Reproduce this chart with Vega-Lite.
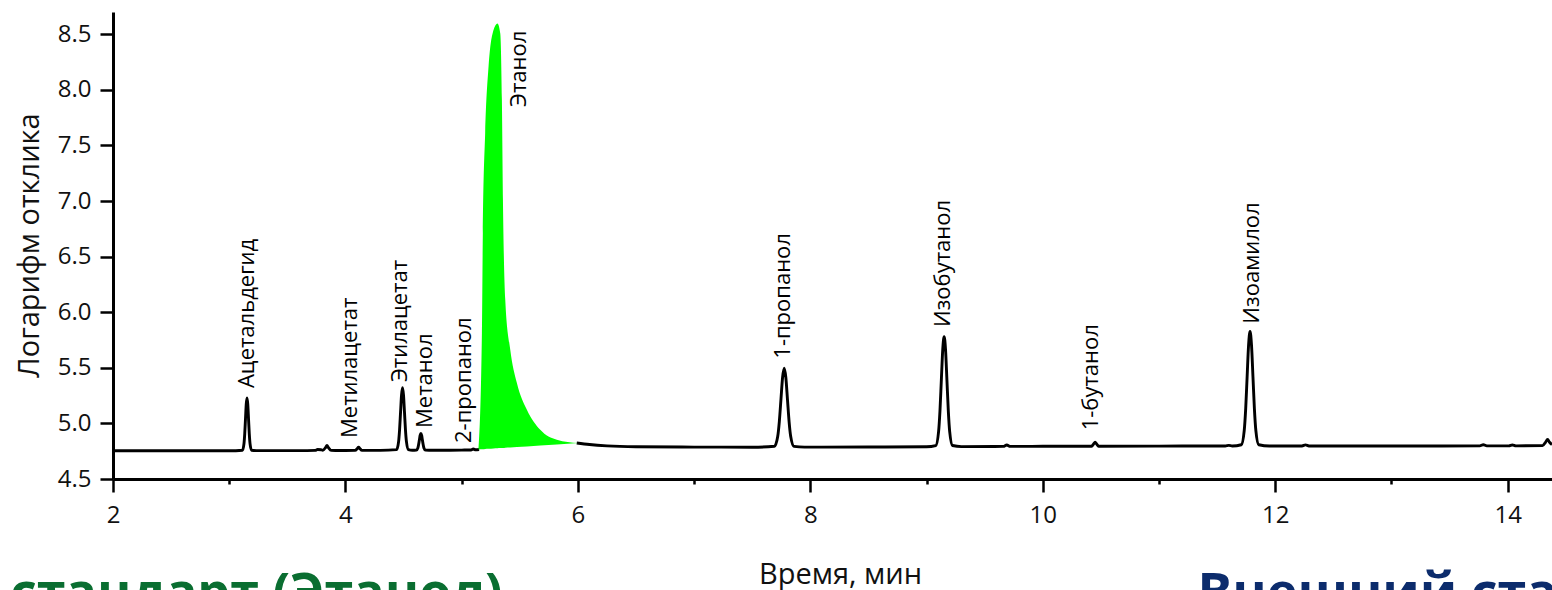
{
  "$schema": "https://vega.github.io/schema/vega-lite/v6.json",
  "width": 1439,
  "height": 467,
  "autosize": {"type": "none"},
  "padding": {"left": 113, "top": 12, "right": 0, "bottom": 111},
  "background": "white",
  "config": {"view": {"stroke": null}},
  "datasets": {
    "trace": [
      {"t": 2.0, "v": 4.754, "seg": "a"}, {"t": 2.6, "v": 4.754, "seg": "a"}, {"t": 3.0, "v": 4.754, "seg": "a"},
      {"t": 3.114, "v": 4.759, "seg": "a"}, {"t": 3.127, "v": 4.818, "seg": "a"}, {"t": 3.1335, "v": 4.908, "seg": "a"}, {"t": 3.14, "v": 5.042, "seg": "a"}, {"t": 3.1465, "v": 5.173, "seg": "a"}, {"t": 3.153, "v": 5.229, "seg": "a"}, {"t": 3.1595, "v": 5.173, "seg": "a"}, {"t": 3.166, "v": 5.042, "seg": "a"}, {"t": 3.1725, "v": 4.908, "seg": "a"}, {"t": 3.179, "v": 4.818, "seg": "a"}, {"t": 3.192, "v": 4.759, "seg": "a"},
      {"t": 3.25, "v": 4.755, "seg": "a"}, {"t": 3.6, "v": 4.755, "seg": "a"}, {"t": 3.74, "v": 4.757, "seg": "a"}, {"t": 3.76, "v": 4.765, "seg": "a"}, {"t": 3.79, "v": 4.763, "seg": "a"},
      {"t": 3.805, "v": 4.758, "seg": "a"}, {"t": 3.829, "v": 4.783, "seg": "a"}, {"t": 3.841, "v": 4.801, "seg": "a"}, {"t": 3.853, "v": 4.783, "seg": "a"}, {"t": 3.877, "v": 4.757, "seg": "a"},
      {"t": 4.0, "v": 4.756, "seg": "a"},
      {"t": 4.083, "v": 4.757, "seg": "a"}, {"t": 4.103, "v": 4.775, "seg": "a"}, {"t": 4.113, "v": 4.787, "seg": "a"}, {"t": 4.123, "v": 4.775, "seg": "a"}, {"t": 4.143, "v": 4.757, "seg": "a"},
      {"t": 4.3, "v": 4.757, "seg": "a"},
      {"t": 4.44, "v": 4.764, "seg": "a"}, {"t": 4.457, "v": 4.834, "seg": "a"}, {"t": 4.4655, "v": 4.94, "seg": "a"}, {"t": 4.474, "v": 5.099, "seg": "a"}, {"t": 4.4825, "v": 5.254, "seg": "a"}, {"t": 4.491, "v": 5.32, "seg": "a"}, {"t": 4.4995, "v": 5.254, "seg": "a"}, {"t": 4.508, "v": 5.099, "seg": "a"}, {"t": 4.5165, "v": 4.94, "seg": "a"}, {"t": 4.525, "v": 4.834, "seg": "a"}, {"t": 4.542, "v": 4.764, "seg": "a"},
      {"t": 4.575, "v": 4.758, "seg": "a"},
      {"t": 4.61, "v": 4.76, "seg": "a"}, {"t": 4.623, "v": 4.779, "seg": "a"}, {"t": 4.636, "v": 4.85, "seg": "a"}, {"t": 4.6425, "v": 4.892, "seg": "a"}, {"t": 4.649, "v": 4.91, "seg": "a"}, {"t": 4.6555, "v": 4.892, "seg": "a"}, {"t": 4.662, "v": 4.85, "seg": "a"}, {"t": 4.675, "v": 4.779, "seg": "a"}, {"t": 4.688, "v": 4.76, "seg": "a"},
      {"t": 4.75, "v": 4.758, "seg": "a"}, {"t": 4.9, "v": 4.759, "seg": "a"}, {"t": 5.0, "v": 4.76, "seg": "a"}, {"t": 5.08, "v": 4.761, "seg": "a"}, {"t": 5.1, "v": 4.77, "seg": "a"}, {"t": 5.12, "v": 4.763, "seg": "a"}, {"t": 5.15, "v": 4.765, "seg": "a"},
      {"t": 5.99, "v": 4.824, "seg": "b"}, {"t": 6.1, "v": 4.81, "seg": "b"}, {"t": 6.25, "v": 4.798, "seg": "b"}, {"t": 6.5, "v": 4.79, "seg": "b"}, {"t": 7.0, "v": 4.787, "seg": "b"}, {"t": 7.5, "v": 4.786, "seg": "b"},
      {"t": 7.691, "v": 4.794, "seg": "b"}, {"t": 7.719, "v": 4.882, "seg": "b"}, {"t": 7.733, "v": 5.017, "seg": "b"}, {"t": 7.747, "v": 5.217, "seg": "b"}, {"t": 7.761, "v": 5.413, "seg": "b"}, {"t": 7.775, "v": 5.496, "seg": "b"}, {"t": 7.789, "v": 5.413, "seg": "b"}, {"t": 7.803, "v": 5.217, "seg": "b"}, {"t": 7.817, "v": 5.017, "seg": "b"}, {"t": 7.831, "v": 4.882, "seg": "b"}, {"t": 7.859, "v": 4.794, "seg": "b"},
      {"t": 7.95, "v": 4.787, "seg": "b"}, {"t": 8.5, "v": 4.788, "seg": "b"}, {"t": 9.0, "v": 4.79, "seg": "b"},
      {"t": 9.079, "v": 4.801, "seg": "b"}, {"t": 9.103, "v": 4.924, "seg": "b"}, {"t": 9.115, "v": 5.111, "seg": "b"}, {"t": 9.127, "v": 5.39, "seg": "b"}, {"t": 9.139, "v": 5.664, "seg": "b"}, {"t": 9.151, "v": 5.78, "seg": "b"}, {"t": 9.163, "v": 5.664, "seg": "b"}, {"t": 9.175, "v": 5.39, "seg": "b"}, {"t": 9.187, "v": 5.111, "seg": "b"}, {"t": 9.199, "v": 4.924, "seg": "b"}, {"t": 9.223, "v": 4.801, "seg": "b"},
      {"t": 9.3, "v": 4.791, "seg": "b"}, {"t": 9.66, "v": 4.793, "seg": "b"}, {"t": 9.69, "v": 4.806, "seg": "b"}, {"t": 9.72, "v": 4.793, "seg": "b"}, {"t": 10.0, "v": 4.794, "seg": "b"},
      {"t": 10.42, "v": 4.795, "seg": "b"}, {"t": 10.437, "v": 4.815, "seg": "b"}, {"t": 10.45, "v": 4.83, "seg": "b"}, {"t": 10.463, "v": 4.815, "seg": "b"}, {"t": 10.48, "v": 4.795, "seg": "b"},
      {"t": 11.0, "v": 4.796, "seg": "b"}, {"t": 11.57, "v": 4.797, "seg": "b"}, {"t": 11.6, "v": 4.802, "seg": "b"}, {"t": 11.63, "v": 4.797, "seg": "b"},
      {"t": 11.708, "v": 4.808, "seg": "b"}, {"t": 11.733, "v": 4.936, "seg": "b"}, {"t": 11.7455, "v": 5.131, "seg": "b"}, {"t": 11.758, "v": 5.422, "seg": "b"}, {"t": 11.7705, "v": 5.706, "seg": "b"}, {"t": 11.783, "v": 5.827, "seg": "b"}, {"t": 11.7955, "v": 5.706, "seg": "b"}, {"t": 11.808, "v": 5.422, "seg": "b"}, {"t": 11.8205, "v": 5.131, "seg": "b"}, {"t": 11.833, "v": 4.936, "seg": "b"}, {"t": 11.858, "v": 4.808, "seg": "b"},
      {"t": 11.95, "v": 4.797, "seg": "b"}, {"t": 12.23, "v": 4.797, "seg": "b"}, {"t": 12.26, "v": 4.807, "seg": "b"}, {"t": 12.29, "v": 4.797, "seg": "b"}, {"t": 13.0, "v": 4.797, "seg": "b"},
      {"t": 13.76, "v": 4.798, "seg": "b"}, {"t": 13.79, "v": 4.808, "seg": "b"}, {"t": 13.82, "v": 4.798, "seg": "b"}, {"t": 14.01, "v": 4.798, "seg": "b"}, {"t": 14.04, "v": 4.806, "seg": "b"}, {"t": 14.07, "v": 4.798, "seg": "b"},
      {"t": 14.3, "v": 4.8, "seg": "b"}, {"t": 14.325, "v": 4.83, "seg": "b"}, {"t": 14.343, "v": 4.855, "seg": "b"}, {"t": 14.36, "v": 4.83, "seg": "b"}, {"t": 14.381, "v": 4.81, "seg": "b"}
    ],
    "ethanol": [
      {"t": 5.145, "v": 4.765, "b": 4.765}, {"t": 5.174, "v": 5.811, "b": 4.767}, {"t": 5.182, "v": 6.71, "b": 4.767}, {"t": 5.202, "v": 7.61, "b": 4.769}, {"t": 5.231, "v": 8.207, "b": 4.771}, {"t": 5.274, "v": 8.537, "b": 4.774}, {"t": 5.308, "v": 8.597, "b": 4.776}, {"t": 5.332, "v": 8.507, "b": 4.778}, {"t": 5.346, "v": 7.908, "b": 4.779}, {"t": 5.355, "v": 7.01, "b": 4.779}, {"t": 5.375, "v": 6.111, "b": 4.781}, {"t": 5.418, "v": 5.662, "b": 4.783}, {"t": 5.475, "v": 5.363, "b": 4.787}, {"t": 5.561, "v": 5.123, "b": 4.793}, {"t": 5.676, "v": 4.943, "b": 4.801}, {"t": 5.819, "v": 4.853, "b": 4.81}, {"t": 6.005, "v": 4.823, "b": 4.823}
    ],
    "labels": [
      {"t": 3.157, "v": 5.318, "name": "Ацетальдегид"},
      {"t": 4.035, "v": 4.869, "name": "Метилацетат"},
      {"t": 4.469, "v": 5.372, "name": "Этилацетат"},
      {"t": 4.685, "v": 4.959, "name": "Метанол"},
      {"t": 5.02, "v": 4.824, "name": "2-пропанол"},
      {"t": 5.493, "v": 7.846, "name": "Этанол"},
      {"t": 7.765, "v": 5.582, "name": "1-пропанол"},
      {"t": 9.142, "v": 5.867, "name": "Изобутанол"},
      {"t": 10.415, "v": 4.938, "name": "1-бутанол"},
      {"t": 11.8, "v": 5.897, "name": "Изоамилол"}
    ],
    "notes": [
      {"t": 1.114, "v": 3.324, "text": "стандарт (Этанол)", "grp": "inner"},
      {"t": 11.33, "v": 3.324, "text": "Внешний стандарт", "grp": "outer"}
    ]
  },
  "layer": [
    {
      "data": {"name": "trace"},
      "mark": {"type": "line", "color": "black", "strokeWidth": 2.9, "interpolate": "monotone", "strokeJoin": "round"},
      "encoding": {
        "x": {
          "field": "t", "type": "quantitative",
          "scale": {"domain": [2, 14.381], "nice": false, "zero": false},
          "axis": {
            "title": "Время, мин",
            "values": [2, 3, 4, 5, 6, 7, 8, 9, 10, 11, 12, 13, 14],
            "labelExpr": "datum.value % 2 === 0 ? format(datum.value, 'd') : ''",
            "grid": false,
            "domainColor": "black", "domainWidth": 3,
            "tickColor": "black", "tickWidth": 2.5,
            "tickSize": {"condition": {"test": "datum.value % 2 === 0", "value": 13}, "value": 5},
            "labelFont": "Open Sans", "labelFontSize": 24, "labelColor": "#111",
            "labelPadding": 11, "labelFlush": false, "labelOverlap": false,
            "titleFont": "Open Sans", "titleFontSize": 29, "titleFontWeight": "normal", "titleColor": "#111",
            "titleX": 727, "titleY": 104, "titleBaseline": "alphabetic", "titleAlign": "center", "titleAnchor": null
          }
        },
        "y": {
          "field": "v", "type": "quantitative",
          "scale": {"domain": [4.5, 8.7], "nice": false, "zero": false},
          "axis": {
            "title": "Логарифм отклика",
            "values": [4.5, 4.75, 5, 5.25, 5.5, 5.75, 6, 6.25, 6.5, 6.75, 7, 7.25, 7.5, 7.75, 8, 8.25, 8.5],
            "labelExpr": "(datum.value * 2) % 1 === 0 ? format(datum.value, '.1f') : ''",
            "grid": false,
            "domainColor": "black", "domainWidth": 3,
            "tickColor": "black", "tickWidth": 2.5,
            "tickSize": {"condition": {"test": "(datum.value * 2) % 1 === 0", "value": 13}, "value": 6},
            "labelFont": "Open Sans", "labelFontSize": 24, "labelColor": "#111",
            "labelPadding": 9, "labelOverlap": false,
            "titleFont": "Open Sans", "titleFontSize": 29, "titleFontWeight": "normal", "titleColor": "#111",
            "titleAngle": -90, "titleX": -75, "titleY": 233, "titleBaseline": "alphabetic", "titleAlign": "center", "titleAnchor": null
          }
        },
        "detail": {"field": "seg", "type": "nominal"}
      }
    },
    {
      "data": {"name": "ethanol"},
      "mark": {"type": "area", "color": "#00ff00", "interpolate": "monotone", "opacity": 1},
      "encoding": {
        "x": {"field": "t", "type": "quantitative"},
        "y": {"field": "v", "type": "quantitative"},
        "y2": {"field": "b"}
      }
    },
    {
      "data": {"name": "labels"},
      "mark": {"type": "text", "angle": 270, "align": "left", "baseline": "middle", "font": "Open Sans", "fontSize": 22, "color": "black"},
      "encoding": {
        "x": {"field": "t", "type": "quantitative"},
        "y": {"field": "v", "type": "quantitative"},
        "text": {"field": "name", "type": "nominal"}
      }
    },
    {
      "data": {"name": "notes"},
      "mark": {"type": "text", "align": "left", "baseline": "alphabetic", "font": "Open Sans", "fontSize": 52, "fontWeight": "bold"},
      "encoding": {
        "x": {"field": "t", "type": "quantitative"},
        "y": {"field": "v", "type": "quantitative"},
        "text": {"field": "text", "type": "nominal"},
        "color": {"field": "grp", "type": "nominal", "scale": {"domain": ["inner", "outer"], "range": ["#0a6e31", "#0c2c6c"]}, "legend": null}
      }
    }
  ]
}
